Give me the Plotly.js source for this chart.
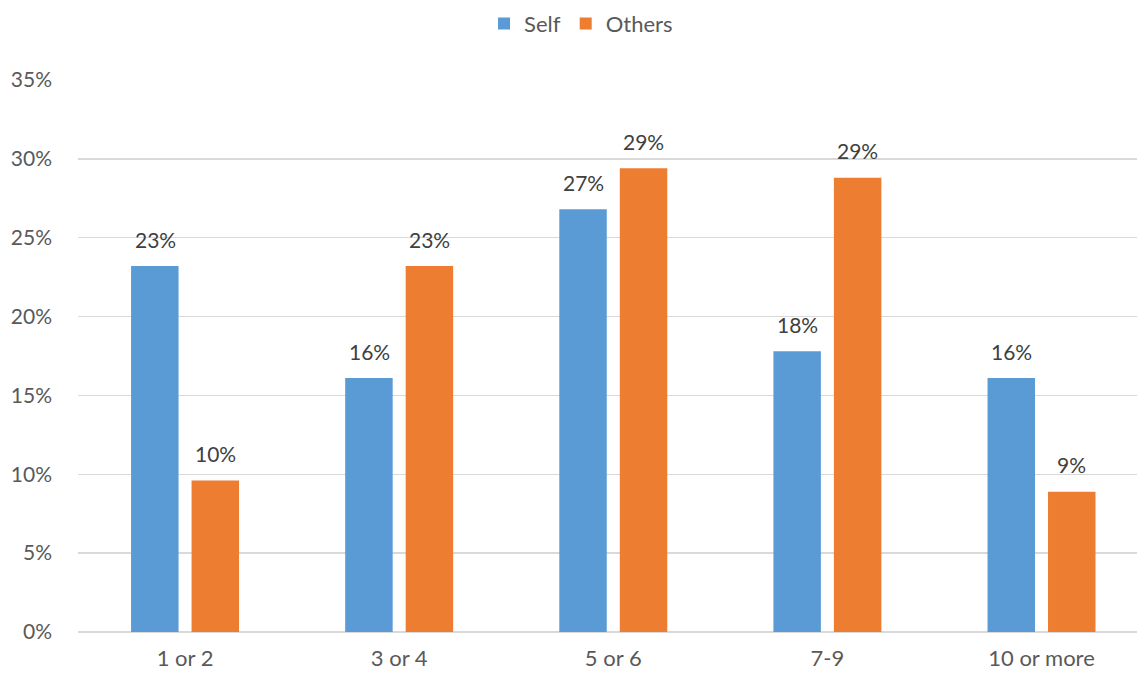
<!DOCTYPE html>
<html>
<head>
<meta charset="utf-8">
<script src="https://cdn.plot.ly/plotly-3.0.1.min.js"></script>
<style>html,body{margin:0;padding:0;background:#fff;}#chart{width:1137px;height:673px;}</style>
</head>
<body>
<div id="chart"></div>
<script>
const categories = ["1 or 2", "3 or 4", "5 or 6", "7-9", "10 or more"];
const selfValues = [0.232, 0.161, 0.268, 0.178, 0.161];
const othersValues = [0.096, 0.232, 0.294, 0.288, 0.089];
const seriesNames = ["Self", "Others"];
const yTickVals = [0, 0.05, 0.10, 0.15, 0.20, 0.25, 0.30, 0.35];

const FONT = "Lato, 'Open Sans', sans-serif";
const pct = v => Math.round(v * 100) + "%";

const traces = [
  {type: "bar", name: seriesNames[0], x: categories, y: selfValues,
   marker: {color: "#5B9BD5"}, hoverinfo: "skip"},
  {type: "bar", name: seriesNames[1], x: categories, y: othersValues,
   marker: {color: "#ED7D31"}, hoverinfo: "skip"}
];

const annotations = [];
categories.forEach((c, i) => {
  annotations.push({x: c, y: selfValues[i], xref: "x", yref: "y", text: pct(selfValues[i]),
    showarrow: false, xshift: -30, yshift: 27, yanchor: "middle",
    font: {family: FONT, size: 21, color: "#404040"}});
  annotations.push({x: c, y: othersValues[i], xref: "x", yref: "y", text: pct(othersValues[i]),
    showarrow: false, xshift: 30, yshift: 27, yanchor: "middle",
    font: {family: FONT, size: 21, color: "#404040"}});
});

const layout = {
  width: 1137, height: 673,
  margin: {l: 78, r: 0, t: 80, b: 41, pad: 0},
  paper_bgcolor: "#fff", plot_bgcolor: "#fff",
  font: {family: FONT, size: 22, color: "#595959"},
  barmode: "group", bargap: 0.435, bargroupgap: 0.215,
  showlegend: true,
  legend: {orientation: "h", x: 0.475, xanchor: "center", y: 1.102, yanchor: "middle",
    font: {family: FONT, size: 22, color: "#595959"}, itemwidth: 30, traceorder: "normal"},
  xaxis: {type: "category", range: [-0.5, 4.446], showgrid: false, zeroline: false,
    showline: false, ticks: "", tickfont: {family: FONT, size: 22, color: "#595959"},
    ticklabelstandoff: 11},
  yaxis: {range: [0, 0.35], tickvals: yTickVals, tickformat: ".0%", showgrid: true,
    gridcolor: "#D9D9D9", gridwidth: 1.5, zeroline: true, zerolinecolor: "#D9D9D9",
    zerolinewidth: 1.5, showline: false, ticks: "", ticklabelstandoff: 25,
    tickfont: {family: FONT, size: 21, color: "#595959"}},
  annotations: annotations
};

Plotly.newPlot("chart", traces, layout, {staticPlot: true, displayModeBar: false});
</script>
</body>
</html>
